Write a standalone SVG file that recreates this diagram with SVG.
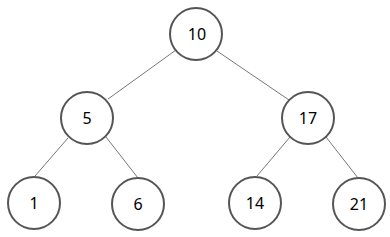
<svg xmlns="http://www.w3.org/2000/svg" width="390" height="237" viewBox="0 0 390 237">
<style>
.n circle{fill:#fff;stroke:#555;stroke-width:2}
.n text{font-family:"Noto Sans","Liberation Sans",sans-serif;font-size:16px;fill:#000;text-anchor:middle;dominant-baseline:central}
#edges line{stroke:#777;stroke-width:1}
</style>
<rect width="390" height="237" fill="#fff"/>
<g id="edges">
<line x1="176" y1="50" x2="108" y2="99"/>
<line x1="217" y1="51" x2="289" y2="100"/>
<line x1="68" y1="138" x2="35" y2="176"/>
<line x1="106" y1="137" x2="138" y2="178"/>
<line x1="290" y1="137" x2="257" y2="176"/>
<line x1="326" y1="137" x2="358" y2="178"/>
</g>
<g id="n10" class="n"><circle cx="196" cy="34" r="26"/><text x="197" y="34">10</text></g>
<g id="n5" class="n"><circle cx="87" cy="118" r="26"/><text x="87" y="118">5</text></g>
<g id="n17" class="n"><circle cx="308" cy="118" r="26"/><text x="308" y="118">17</text></g>
<g id="n1" class="n"><circle cx="34" cy="203" r="26"/><text x="34" y="203">1</text></g>
<g id="n6" class="n"><circle cx="138" cy="204" r="26"/><text x="138" y="204">6</text></g>
<g id="n14" class="n"><circle cx="255" cy="203" r="26"/><text x="255" y="203">14</text></g>
<g id="n21" class="n"><circle cx="359" cy="204" r="26"/><text x="359" y="204">21</text></g>
</svg>
